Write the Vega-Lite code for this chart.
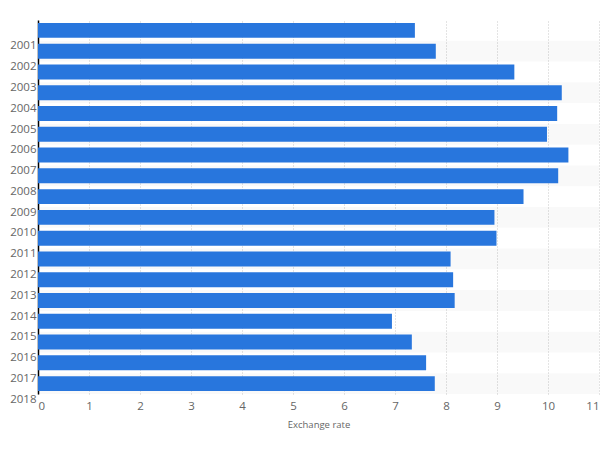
{
  "$schema": "https://vega.github.io/schema/vega-lite/v6.json",
  "autosize": "none",
  "width": 561,
  "height": 374,
  "padding": {"left": 38, "top": 20, "right": 6, "bottom": 56},
  "background": "white",
  "config": {"view": {"stroke": null}, "font": "Open Sans"},
  "data": {"values": [
    {"year": "2001", "rate": 7.39},
    {"year": "2002", "rate": 7.80},
    {"year": "2003", "rate": 9.34},
    {"year": "2004", "rate": 10.27},
    {"year": "2005", "rate": 10.18},
    {"year": "2006", "rate": 9.98},
    {"year": "2007", "rate": 10.40},
    {"year": "2008", "rate": 10.20},
    {"year": "2009", "rate": 9.52},
    {"year": "2010", "rate": 8.95},
    {"year": "2011", "rate": 8.99},
    {"year": "2012", "rate": 8.09},
    {"year": "2013", "rate": 8.14},
    {"year": "2014", "rate": 8.17},
    {"year": "2015", "rate": 6.94},
    {"year": "2016", "rate": 7.33},
    {"year": "2017", "rate": 7.61},
    {"year": "2018", "rate": 7.78}
  ]},
  "encoding": {
    "y": {
      "field": "year", "type": "nominal", "sort": null,
      "scale": {"paddingInner": 0, "paddingOuter": 0,
        "domain": ["2001","2002","2003","2004","2005","2006","2007","2008","2009","2010","2011","2012","2013","2014","2015","2016","2017","2018"]},
      "axis": {
        "title": null, "ticks": false, "domainColor": "#000000", "domainWidth": 1.5,
        "labelOffset": 16, "labelPadding": 2, "labelFontSize": 11.5, "labelColor": "#666666", "grid": false
      }
    }
  },
  "layer": [
    {
      "transform": [{"filter": "toNumber(datum.year) % 2 == 0"}],
      "mark": {"type": "bar", "color": "#000000", "opacity": 0.022},
      "encoding": {}
    },
    {
      "mark": {"type": "bar", "color": "#2876dd", "height": {"band": 0.72}},
      "encoding": {
        "x": {
          "field": "rate", "type": "quantitative",
          "scale": {"domain": [0, 11], "nice": false},
          "axis": {
            "title": "Exchange rate", "titleFontSize": 9.5, "titleColor": "#666666", "titleFontWeight": "normal", "titlePadding": 8,
            "values": [0,1,2,3,4,5,6,7,8,9,10,11],
            "domain": false, "ticks": false, "labelPadding": 6, "labelFontSize": 11.5, "labelColor": "#666666",
            "grid": true, "gridColor": "#c8c8c8", "gridDash": [1, 2], "gridWidth": 1
          }
        }
      }
    }
  ]
}
